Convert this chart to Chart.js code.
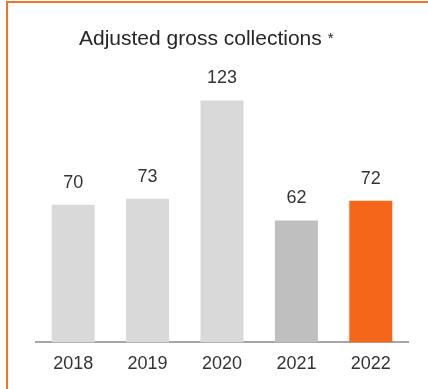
<!DOCTYPE html>
<html>
<head>
<meta charset="utf-8">
<script src="https://cdn.jsdelivr.net/npm/chart.js@4"></script>
<style>
  html, body { margin: 0; padding: 0; background: #fff; }
  #frame {
    position: absolute; left: 6px; top: 1px; width: 422px; height: 388px;
    border-top: 2px solid #F47221; border-left: 2px solid #F47221;
    box-sizing: border-box;
  }
  #wrap { position: absolute; left: 0; top: 0; width: 428px; height: 389px; }
</style>
</head>
<body>
<div id="frame"></div>
<div id="wrap"><canvas id="chart"></canvas></div>
<script>
const years = ['2018', '2019', '2020', '2021', '2022'];
const collections = [70, 73, 123, 62, 72];
const barColors = ['#D9D9D9', '#D9D9D9', '#D9D9D9', '#BFBFBF', '#F5661A'];
const titleText = 'Adjusted gross collections';

// value labels above each bar
const valueLabels = {
  id: 'valueLabels',
  afterDatasetsDraw(chart) {
    const ctx = chart.ctx;
    const meta = chart.getDatasetMeta(0);
    ctx.save();
    ctx.font = '18px "Liberation Sans", Arial, sans-serif';
    ctx.fillStyle = '#333333';
    ctx.textAlign = 'center';
    ctx.textBaseline = 'middle';
    meta.data.forEach((bar, i) => {
      ctx.fillText(collections[i], bar.x, bar.y - 22);
    });
    ctx.restore();
  }
};

// title with a small asterisk
const titleWithStar = {
  id: 'titleWithStar',
  afterDraw(chart) {
    const ctx = chart.ctx;
    ctx.save();
    ctx.font = '21px "Liberation Sans", Arial, sans-serif';
    ctx.fillStyle = '#262626';
    ctx.textAlign = 'left';
    ctx.textBaseline = 'alphabetic';
    ctx.fillText(titleText, 79, 45);
    const w = ctx.measureText(titleText).width;
    ctx.font = '15px "Liberation Sans", Arial, sans-serif';
    ctx.fillText('*', 79 + w + 6, 43);
    ctx.restore();
  }
};

new Chart(document.getElementById('chart').getContext('2d'), {
  type: 'bar',
  data: {
    labels: years,
    datasets: [{
      data: collections,
      backgroundColor: barColors,
      borderWidth: 0,
      barPercentage: 0.578,
      categoryPercentage: 1
    }]
  },
  options: {
    responsive: true,
    maintainAspectRatio: false,
    animation: false,
    layout: { padding: { left: 36, right: 20, top: 67, bottom: 11 } },
    plugins: {
      legend: { display: false },
      tooltip: { enabled: false },
      title: { display: false }
    },
    scales: {
      x: {
        grid: { display: false },
        border: { display: true, color: '#A6A6A6', width: 2 },
        ticks: {
          color: '#333333',
          padding: 3,
          font: { family: '"Liberation Sans", Arial, sans-serif', size: 18 }
        }
      },
      y: {
        display: false,
        min: 0,
        max: 140
      }
    }
  },
  plugins: [valueLabels, titleWithStar]
});
</script>
</body>
</html>
